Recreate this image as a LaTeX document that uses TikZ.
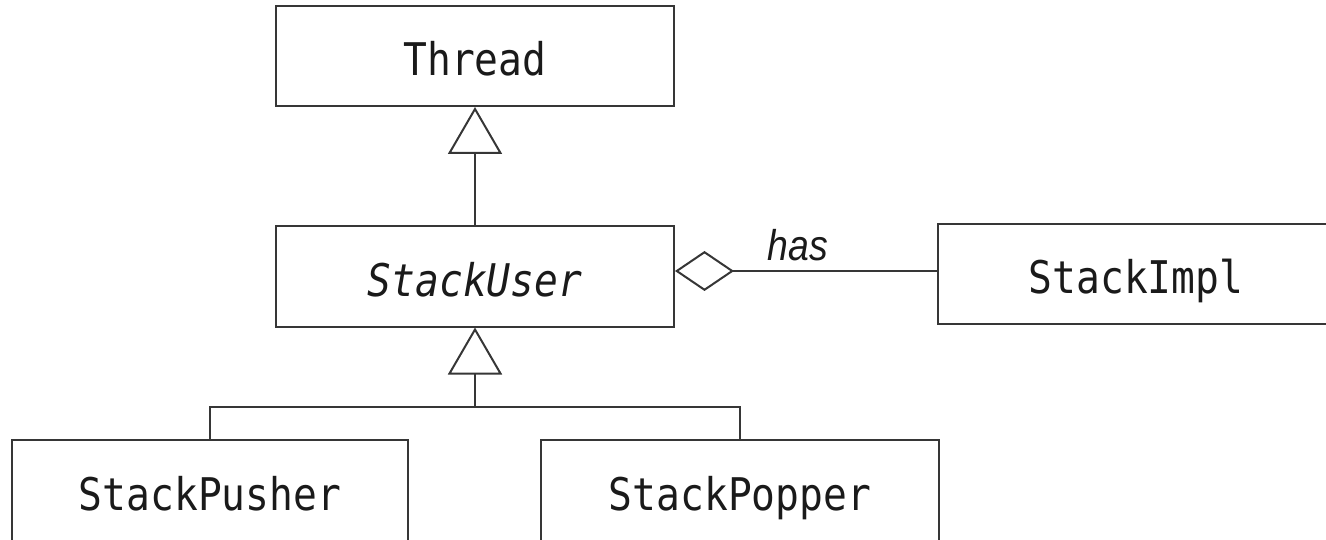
\documentclass[tikz,border=0pt]{standalone}
\usepackage{fontspec}
\usetikzlibrary{arrows.meta}
\newfontfamily\classfont[FakeStretch=0.88]{DejaVu Sans Mono}
\newfontfamily\rolefont[FakeStretch=0.87]{Liberation Sans}
\definecolor{umlline}{HTML}{363636}
\definecolor{umltext}{HTML}{1A1A1A}
\tikzset{
  classbox/.style={draw=umlline, line width=2pt, rectangle, inner sep=0pt,
    text=umltext, font=\classfont\fontsize{45}{50}\selectfont,
    text height=40pt, text depth=0pt, minimum height=100pt},
  openbox/.style={classbox, minimum height=120pt, text height=30pt, text depth=10pt},
  link/.style={draw=umlline, line width=2pt},
  generalization/.style={link, -{Triangle[open, length=47pt, width=54pt, line width=2pt]}},
  aggregation/.style={link, {Diamond[open, length=59pt, width=40pt, line width=2pt]}-},
  rolelabel/.style={font=\rolefont\itshape\fontsize{43}{47}\selectfont, text=umltext,
    inner sep=0pt, anchor=base}
}
\begin{document}
\begin{tikzpicture}[x=1pt, y=-1pt]
  \useasboundingbox (0,0) rectangle (1326,540);
  \clip (0,0) rectangle (1326,540);

  % classes
  \node[classbox, minimum width=398pt] (thread) at (475,56) {Thread};
  \node[classbox, minimum width=398pt] (user) at (475,276.5) {\itshape StackUser};
  \node[classbox, minimum width=396pt] (impl) at (1136,274) {StackImpl};
  \node[openbox, minimum width=396pt] (pusher) at (210,500) {StackPusher};
  \node[openbox, minimum width=398pt] (popper) at (740,500) {StackPopper};

  % StackUser extends Thread
  \draw[generalization] (user.north) -- (thread.south);

  % StackUser has a StackImpl
  \coordinate (haswhole) at ([yshift=5.5pt]user.east);
  \draw[aggregation] (haswhole) -- (haswhole -| impl.west)
    node[rolelabel, pos=0.47, yshift=10pt] (has) {has};

  % StackPusher and StackPopper extend StackUser
  \coordinate (fork) at (475,407);
  \draw[link] (pusher.north) |- (fork) -| (popper.north);
  \draw[generalization] (fork) -- (user.south);
\end{tikzpicture}
\end{document}
